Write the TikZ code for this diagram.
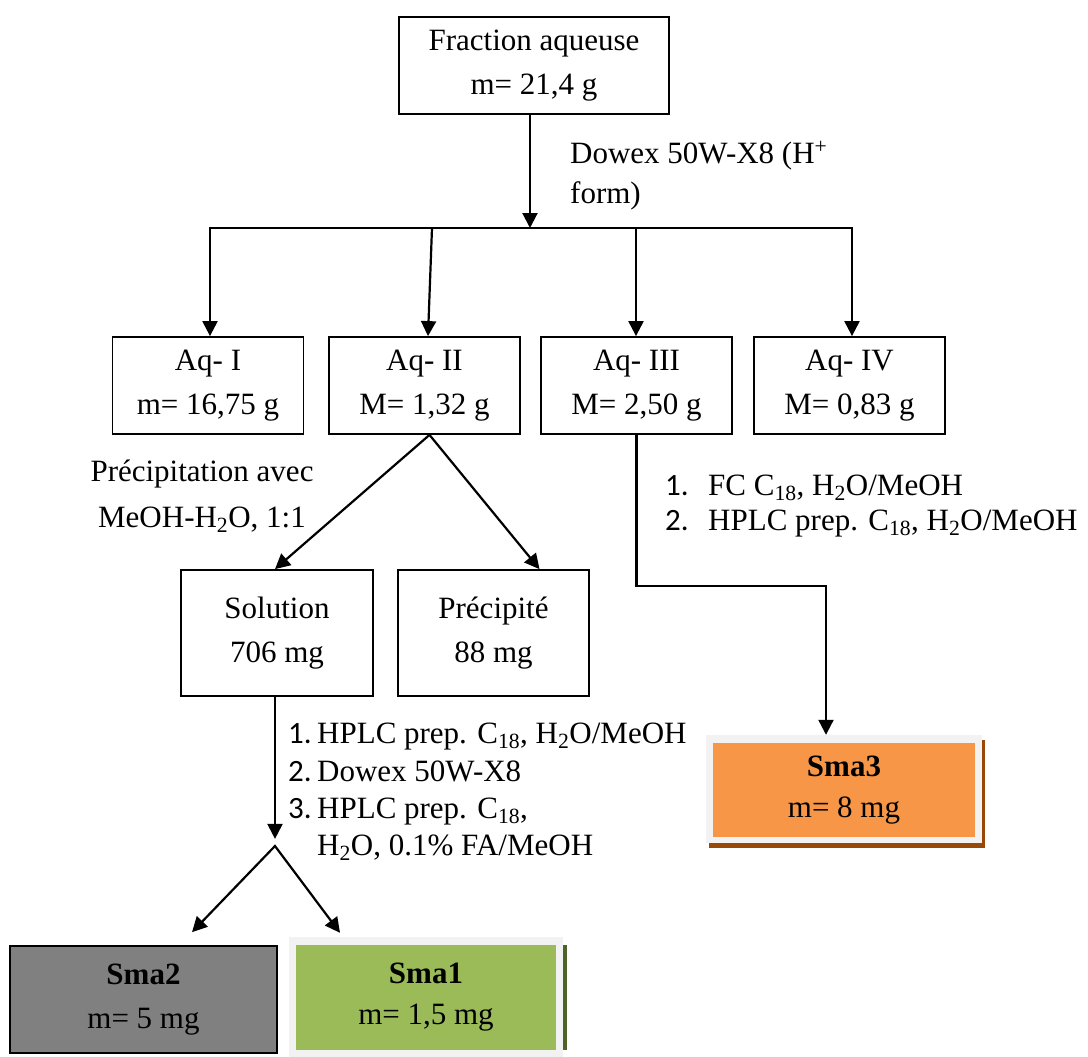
\documentclass[tikz,border=0pt]{standalone}
\usepackage{fontspec}
\setmainfont{Liberation Serif}
\newfontfamily\numfont{Carlito}
\usetikzlibrary{arrows.meta,calc}
\definecolor{orng}{HTML}{F79646}
\definecolor{orngsh}{HTML}{984807}
\definecolor{grn}{HTML}{9BBB59}
\definecolor{grnsh}{HTML}{4F6228}
\definecolor{frm}{HTML}{F2F2F2}
\definecolor{gry}{HTML}{808080}
\begin{document}
\begin{tikzpicture}[x=1pt,y=-1pt]
\tikzset{
 box/.style={draw=black, line width=1.8pt, align=center, inner sep=0pt, font=\fontsize{31}{44}\selectfont},
 cbox/.style={align=center, inner sep=0pt, font=\fontsize{31}{41}\selectfont},
 lbl/.style={anchor=base west, inner sep=0pt, font=\fontsize{31}{37}\selectfont},
 arr/.style={line width=2.2pt, -{Triangle[length=15pt,width=15pt]}},
 arrtwo/.style={line width=2.2pt, line join=miter, {Triangle[length=15pt,width=15pt]}-{Triangle[length=15pt,width=15pt]}},
 ln/.style={line width=2.2pt, line cap=rect},
}
\useasboundingbox (0,0) rectangle (1088,1057);
% boxes
\node[box, minimum width=270, minimum height=97] (frac) at (534,65.5) {Fraction aqueuse\\m= 21,4 g};
\node[box, minimum width=191, minimum height=97] (aq1) at (208,385.5) {Aq- I\\m= 16,75 g};
\node[box, minimum width=191, minimum height=97] (aq2) at (424.5,385.5) {Aq- II\\M= 1,32 g};
\node[box, minimum width=191, minimum height=97] (aq3) at (636.5,385.5) {Aq- III\\M= 2,50 g};
\node[box, minimum width=191, minimum height=97] (aq4) at (849.5,385.5) {Aq- IV\\M= 0,83 g};
\node[box, minimum width=192, minimum height=126] (sol) at (277,633) {Solution\\706 mg};
\node[box, minimum width=191, minimum height=126] (prec) at (493.5,633) {Précipité\\88 mg};
% Sma3
\fill[orngsh] (709,740) rectangle (985,848);
\node[fill=frm, minimum width=276, minimum height=108, inner sep=0pt] (sma3) at (844,789) {};
\node[cbox, fill=orng, minimum width=262, minimum height=94] (sma3in) at (844,790) {\textbf{Sma3}\\m= 8 mg};
% Sma2
\node[box, line width=1.6pt, fill=gry, minimum width=267, minimum height=107] (sma2) at (143.5,999.5) {\textbf{Sma2}\\m= 5 mg};
% Sma1
\fill[grnsh] (563,945) rectangle (567,1050);
\node[fill=frm, minimum width=274, minimum height=120, inner sep=0pt] (sma1) at (426,997) {};
\node[cbox, fill=grn, minimum width=260, minimum height=105] (sma1in) at (426,997.5) {\textbf{Sma1}\\m= 1,5 mg};
% connectors
\coordinate (hub) at (530,228);
\coordinate (h1) at (210,228);
\coordinate (h2) at (432,228);
\coordinate (h3) at (636,228);
\coordinate (h4) at (852,228);
\draw[arr] (frac.south -| hub) -- (hub);
\draw[ln] (h1) -- (h4);
\draw[arr] (h1) -- (h1 |- aq1.north);
\draw[arr] (h2) -- ([xshift=3.5pt]aq2.north);
\draw[arr] (h3) -- (h3 |- aq3.north);
\draw[arr] (h4) -- (h4 |- aq4.north);
\draw[arr] ([xshift=5pt]aq2.south) -- ([xshift=-2pt]sol.north);
\draw[arr] ([xshift=5pt]aq2.south) -- ([xshift=46pt]prec.north);
\draw[arr] (aq3.south) -- ++(0,151) -| ([xshift=-18pt]sma3.north);
\draw[arr] ([xshift=-2pt]sol.south) -- ++(0,142);
\coordinate (apex) at (275,846);
\draw[arrtwo] ($(sma2.north)+(48.5,-13)$) -- (apex) -- ($(sma1.north)+(-86,-4)$);
% labels
\node[lbl] (dw1) at (570,163) {Dowex 50W-X8 (H\textsuperscript{+}};
\node[lbl] (dw2) at (570,203) {form)};
\node[lbl, anchor=base] (pr1) at (202,481) {Précipitation avec};
\node[lbl, anchor=base] (pr2) at (202,527) {MeOH-H\textsubscript{2}O, 1:1};
\node[lbl] (l31) at (665,495) {\makebox[43pt][l]{\numfont 1.}FC C\textsubscript{18}, H\textsubscript{2}O/MeOH};
\node[lbl] (l32) at (665,530) {\makebox[43pt][l]{\numfont 2.}HPLC prep. C\textsubscript{18}, H\textsubscript{2}O/MeOH};
\node[lbl] (s1) at (288,743) {\makebox[29pt][l]{\numfont 1.}HPLC prep. C\textsubscript{18}, H\textsubscript{2}O/MeOH};
\node[lbl] (s2) at (288,781) {\makebox[29pt][l]{\numfont 2.}Dowex 50W-X8};
\node[lbl] (s3) at (288,818) {\makebox[29pt][l]{\numfont 3.}HPLC prep. C\textsubscript{18},};
\node[lbl] (s4) at (317,855) {H\textsubscript{2}O, 0.1\% FA/MeOH};
\end{tikzpicture}
\end{document}
